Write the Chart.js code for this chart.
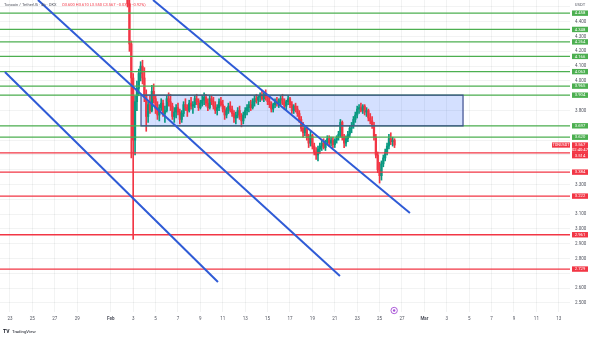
<!DOCTYPE html>
<html>
<head>
<meta charset="utf-8">
<script src="https://cdn.jsdelivr.net/npm/chart.js@4.4.1/dist/chart.umd.min.js"></script>
<style>
  html, body { margin: 0; padding: 0; background: #fff; }
</style>
</head>
<body>
<canvas id="myChart" width="600" height="338"></canvas>
<script>
// ---- values (TONUSDT, 4h candles) ----
// x axis is "days since Feb 1"
const dayTicks = [-9, -7, -5, -3, 0, 2, 4, 6, 8, 10, 12, 14, 16, 18, 20, 22, 24, 26, 28, 30, 32, 34, 36, 38, 40];
const dayTickLabels = ["23", "25", "27", "29", "Feb", "3", "5", "7", "9", "11", "13", "15", "17", "19", "21", "23", "25", "27", "Mar", "3", "5", "7", "9", "11", "13"];
const priceTicks = [2.5, 2.6, 2.7, 2.8, 2.9, 3.0, 3.1, 3.2, 3.3, 3.4, 3.5, 3.6, 3.7, 3.8, 3.9, 4.0, 4.1, 4.2, 4.3, 4.4, 4.5];

const greenLevels = [4.458, 4.348, 4.264, 4.166, 4.063, 3.965, 3.904, 3.697, 3.62];
const redLevels = [3.514, 3.384, 3.222, 2.961, 2.729];
const lastPrice = 3.567;

const firstCandleDay = 1.5; // Feb 2, 12:00
const candleStep = 4 / 24;
const candleOpen = [
  4.70, 4.52, 4.25, 4.02, 3.60, 3.86, 3.95, 4.05, 4.10, 4.02, 3.90, 3.76,
  3.84, 3.80, 3.93, 3.88, 3.81, 3.77, 3.82, 3.85, 3.78, 3.80, 3.88, 3.86,
  3.83, 3.76, 3.79, 3.82, 3.79, 3.74, 3.78, 3.84, 3.82, 3.80, 3.85, 3.83,
  3.84, 3.88, 3.86, 3.82, 3.85, 3.87, 3.89, 3.85, 3.82, 3.88, 3.86, 3.83,
  3.80, 3.82, 3.86, 3.84, 3.81, 3.77, 3.80, 3.83, 3.81, 3.78, 3.75, 3.77,
  3.80, 3.76, 3.73, 3.77, 3.80, 3.82, 3.84, 3.82, 3.86, 3.88, 3.87, 3.89,
  3.90, 3.88, 3.91, 3.89, 3.86, 3.84, 3.81, 3.84, 3.86, 3.85, 3.87, 3.88,
  3.85, 3.83, 3.86, 3.88, 3.84, 3.80, 3.83, 3.81, 3.78, 3.74, 3.68, 3.65,
  3.68, 3.62, 3.58, 3.63, 3.56, 3.52, 3.50, 3.54, 3.56, 3.58, 3.55, 3.59,
  3.61, 3.58, 3.60, 3.57, 3.60, 3.62, 3.64, 3.72, 3.62, 3.58, 3.61, 3.64,
  3.68, 3.70, 3.74, 3.77, 3.81, 3.82, 3.80, 3.83, 3.79, 3.80, 3.75, 3.73,
  3.70, 3.62, 3.50, 3.40, 3.36, 3.44, 3.48, 3.52, 3.56, 3.61, 3.59, 3.60
];
const candleHigh = [
  4.74, 4.55, 4.27, 4.05, 3.90, 4.00, 4.08, 4.13, 4.14, 4.09, 3.94, 3.86,
  3.90, 3.97, 3.98, 3.90, 3.86, 3.84, 3.88, 3.87, 3.83, 3.90, 3.92, 3.91,
  3.85, 3.82, 3.84, 3.85, 3.81, 3.80, 3.86, 3.88, 3.84, 3.87, 3.89, 3.86,
  3.90, 3.91, 3.88, 3.87, 3.90, 3.92, 3.91, 3.88, 3.90, 3.90, 3.89, 3.86,
  3.84, 3.88, 3.89, 3.87, 3.83, 3.82, 3.85, 3.86, 3.83, 3.80, 3.79, 3.82,
  3.83, 3.78, 3.79, 3.82, 3.84, 3.86, 3.87, 3.88, 3.90, 3.91, 3.90, 3.92,
  3.93, 3.92, 3.94, 3.91, 3.89, 3.86, 3.85, 3.88, 3.89, 3.88, 3.90, 3.91,
  3.88, 3.87, 3.90, 3.89, 3.86, 3.84, 3.85, 3.83, 3.80, 3.76, 3.72, 3.70,
  3.69, 3.64, 3.66, 3.64, 3.58, 3.55, 3.56, 3.58, 3.60, 3.61, 3.60, 3.63,
  3.63, 3.62, 3.62, 3.61, 3.63, 3.66, 3.74, 3.73, 3.64, 3.63, 3.66, 3.70,
  3.72, 3.76, 3.79, 3.83, 3.84, 3.85, 3.84, 3.84, 3.82, 3.81, 3.78, 3.76,
  3.72, 3.64, 3.52, 3.45, 3.46, 3.50, 3.54, 3.58, 3.64, 3.65, 3.62, 3.61
];
const candleLow = [
  4.50, 4.20, 3.48, 2.93, 3.50, 3.80, 3.90, 4.00, 3.98, 3.86, 3.66, 3.72,
  3.78, 3.79, 3.85, 3.78, 3.74, 3.73, 3.80, 3.76, 3.72, 3.79, 3.83, 3.80,
  3.74, 3.72, 3.75, 3.77, 3.71, 3.72, 3.76, 3.80, 3.76, 3.79, 3.81, 3.78,
  3.82, 3.84, 3.80, 3.81, 3.83, 3.84, 3.83, 3.80, 3.81, 3.84, 3.81, 3.78,
  3.77, 3.80, 3.83, 3.79, 3.74, 3.75, 3.78, 3.79, 3.76, 3.72, 3.71, 3.75,
  3.74, 3.69, 3.71, 3.75, 3.77, 3.79, 3.80, 3.81, 3.83, 3.85, 3.84, 3.86,
  3.87, 3.86, 3.87, 3.84, 3.82, 3.79, 3.79, 3.82, 3.83, 3.82, 3.84, 3.84,
  3.81, 3.80, 3.84, 3.82, 3.78, 3.78, 3.79, 3.76, 3.72, 3.66, 3.62, 3.63,
  3.60, 3.55, 3.56, 3.54, 3.50, 3.47, 3.46, 3.51, 3.53, 3.54, 3.53, 3.57,
  3.56, 3.56, 3.55, 3.55, 3.58, 3.60, 3.62, 3.60, 3.55, 3.56, 3.59, 3.62,
  3.65, 3.68, 3.72, 3.75, 3.78, 3.79, 3.78, 3.77, 3.76, 3.73, 3.71, 3.68,
  3.60, 3.48, 3.38, 3.31, 3.33, 3.42, 3.46, 3.50, 3.54, 3.57, 3.56, 3.55
];
const candleClose = [
  4.52, 4.25, 4.02, 3.60, 3.86, 3.95, 4.05, 4.10, 4.02, 3.90, 3.76, 3.84,
  3.80, 3.93, 3.88, 3.81, 3.77, 3.82, 3.85, 3.78, 3.80, 3.88, 3.86, 3.83,
  3.76, 3.79, 3.82, 3.79, 3.74, 3.78, 3.84, 3.82, 3.80, 3.85, 3.83, 3.84,
  3.88, 3.86, 3.82, 3.85, 3.87, 3.89, 3.85, 3.82, 3.88, 3.86, 3.83, 3.80,
  3.82, 3.86, 3.84, 3.81, 3.77, 3.80, 3.83, 3.81, 3.78, 3.75, 3.77, 3.80,
  3.76, 3.73, 3.77, 3.80, 3.82, 3.84, 3.82, 3.86, 3.88, 3.87, 3.89, 3.90,
  3.88, 3.91, 3.89, 3.86, 3.84, 3.81, 3.84, 3.86, 3.85, 3.87, 3.88, 3.85,
  3.83, 3.86, 3.88, 3.84, 3.80, 3.83, 3.81, 3.78, 3.74, 3.68, 3.65, 3.68,
  3.62, 3.58, 3.63, 3.56, 3.52, 3.50, 3.54, 3.56, 3.58, 3.55, 3.59, 3.61,
  3.58, 3.60, 3.57, 3.60, 3.62, 3.64, 3.72, 3.62, 3.58, 3.61, 3.64, 3.68,
  3.70, 3.74, 3.77, 3.81, 3.82, 3.80, 3.83, 3.79, 3.80, 3.75, 3.73, 3.70,
  3.62, 3.50, 3.40, 3.36, 3.44, 3.48, 3.52, 3.56, 3.61, 3.59, 3.60, 3.567
];

// drawings: trend lines as [startDay, startPrice, endDay, endPrice]
const channelLines = [
  [-9.45, 4.061, 9.57, 2.642],
  [-6.5, 4.547, 20.46, 2.682],
  [3.77, 4.547, 26.71, 3.108]
];
const boxDays = [2.7, 31.45];
const boxPrices = [3.904, 3.697];
const eventDay = 25.3;

// ---- build datasets ----
const upColor = "#089981";
const downColor = "#f23645";
const greenLine = "#4caf50";
const redLine = "#f23645";
const xMin = -9.89;
const xMax = 41.0;

const candleDays = candleOpen.map((o, i) => firstCandleDay + i * candleStep);
const candleColors = candleClose.map((c, i) => (c >= candleOpen[i] ? upColor : downColor));

const levelSet = (v, color) => ({
  type: "line",
  data: [{ x: xMin, y: v }, { x: xMax, y: v }],
  borderColor: color,
  borderWidth: 1.3,
  pointRadius: 0,
  order: 3,
});

const datasets = [
  // box fill (top line filled down to the next dataset)
  {
    type: "line",
    data: [{ x: boxDays[0], y: boxPrices[0] }, { x: boxDays[1], y: boxPrices[0] }],
    borderWidth: 0,
    pointRadius: 0,
    backgroundColor: "rgba(41,98,255,0.2)",
    fill: "+1",
    order: 6,
  },
  {
    type: "line",
    data: [{ x: boxDays[0], y: boxPrices[1] }, { x: boxDays[1], y: boxPrices[1] }],
    borderWidth: 0,
    pointRadius: 0,
    fill: false,
    order: 6,
  },
  // wicks
  {
    type: "bar",
    data: candleDays.map((d, i) => ({ x: d, y: [candleLow[i], candleHigh[i]] })),
    backgroundColor: candleColors,
    barThickness: 1,
    grouped: false,
    order: 5,
  },
  // bodies
  {
    type: "bar",
    data: candleDays.map((d, i) => ({ x: d, y: [candleOpen[i], candleClose[i]] })),
    backgroundColor: candleColors,
    barThickness: 1.6,
    minBarLength: 1,
    grouped: false,
    order: 4,
  },
  ...greenLevels.map((v) => levelSet(v, greenLine)),
  ...redLevels.map((v) => levelSet(v, redLine)),
  // box outline
  {
    type: "line",
    data: [
      { x: boxDays[0], y: boxPrices[0] },
      { x: boxDays[1], y: boxPrices[0] },
      { x: boxDays[1], y: boxPrices[1] },
      { x: boxDays[0], y: boxPrices[1] },
      { x: boxDays[0], y: boxPrices[0] },
    ],
    borderColor: "#3d4d8e",
    borderWidth: 1.2,
    pointRadius: 0,
    order: 2,
  },
  ...channelLines.map((l) => ({
    type: "line",
    data: [{ x: l[0], y: l[1] }, { x: l[2], y: l[3] }],
    borderColor: "#2f5bd6",
    borderWidth: 2,
    pointRadius: 0,
    order: 1,
  })),
];

// hide axis numbers that sit under a level tag (TradingView does this)
const allLevels = greenLevels.concat(redLevels);
const tickHidden = (v) => v >= 4.5 || allLevels.some((l) => Math.abs(l - v) < 0.03);

// extra bits: axis tags, header, logo, event marker
const tvOverlay = {
  id: "tvOverlay",
  afterDraw(chart) {
    const ctx = chart.ctx;
    const yScale = chart.scales.y;
    const xScale = chart.scales.x;
    const area = chart.chartArea;
    const tagX = area.right + 2;
    ctx.save();
    ctx.textAlign = "center";
    ctx.textBaseline = "middle";

    const tag = (y, bg, text) => {
      ctx.fillStyle = bg;
      ctx.fillRect(tagX, y - 2.7, 16, 5.4);
      ctx.fillStyle = "#fff";
      ctx.font = "4.2px Roboto";
      ctx.fillText(text, tagX + 8, y + 0.2);
    };

    greenLevels.forEach((v) => tag(yScale.getPixelForValue(v), greenLine, v.toFixed(3)));

    // last price + countdown + symbol
    const py = yScale.getPixelForValue(lastPrice);
    ctx.fillStyle = downColor;
    ctx.fillRect(tagX, py - 2.7, 16, 10.6);
    ctx.fillRect(area.right - 18, py - 2.6, 18, 5.2);
    ctx.fillStyle = "#fff";
    ctx.font = "4.2px Roboto";
    ctx.fillText(lastPrice.toFixed(3), tagX + 8, py + 0.2);
    ctx.fillText("02:40:47", tagX + 8, py + 5.3);
    ctx.font = "3.8px Roboto";
    ctx.fillText("TONUSDT", area.right - 9, py + 0.2);

    redLevels.forEach((v) => {
      let y = yScale.getPixelForValue(v);
      if (y < py + 10.6) y = py + 10.6;
      tag(y, redLine, v.toFixed(3));
    });

    // currency on top of the price axis
    ctx.fillStyle = "#50535e";
    ctx.font = "4.2px Roboto";
    ctx.fillText("USDT", tagX + 8, 5);

    // header line
    ctx.textAlign = "left";
    ctx.fillStyle = "#50535e";
    ctx.font = "4px Roboto";
    ctx.fillText("Toncoin / TetherUS · 4h · OKX", 4, 5);
    ctx.fillStyle = "#f23645";
    ctx.fillText("O3.600 H3.610 L3.550 C3.567 −0.033 (−0.92%)", 62, 5);

    // TradingView logo
    ctx.fillStyle = "#131722";
    ctx.font = "bold 5px Roboto";
    ctx.fillText("TV", 3, 332);
    ctx.font = "4.3px Roboto";
    ctx.fillText("TradingView", 12, 332);

    // event marker
    const ex = xScale.getPixelForValue(eventDay);
    ctx.beginPath();
    ctx.arc(ex, 310.5, 3.2, 0, Math.PI * 2);
    ctx.fillStyle = "#fff";
    ctx.fill();
    ctx.strokeStyle = "#a64fd6";
    ctx.lineWidth = 0.9;
    ctx.stroke();
    ctx.beginPath();
    ctx.arc(ex, 310.5, 1.2, 0, Math.PI * 2);
    ctx.fillStyle = "#a64fd6";
    ctx.fill();
    ctx.restore();
  },
};

Chart.defaults.font.family = "Roboto, 'Noto Sans', sans-serif";
const gridColor = "rgba(42,46,57,0.06)";

let ctx = document.getElementById("myChart").getContext("2d");
let myChart = new Chart(ctx, {
  type: "line",
  data: { datasets: datasets },
  options: {
    responsive: false,
    animation: false,
    devicePixelRatio: 1,
    layout: { padding: { left: 0, right: 0, top: 0, bottom: 12 } },
    plugins: { legend: { display: false }, tooltip: { enabled: false } },
    scales: {
      x: {
        type: "linear",
        min: xMin,
        max: xMax,
        offset: false,
        grid: { color: gridColor, drawTicks: false, offset: false },
        border: { display: false },
        afterBuildTicks: (scale) => {
          scale.ticks = dayTicks.map((v) => ({ value: v }));
        },
        afterFit: (scale) => {
          scale.height = 14;
          scale.paddingLeft = 0;
          scale.paddingRight = 0;
        },
        ticks: {
          autoSkip: false,
          maxRotation: 0,
          padding: 4,
          color: "#50535e",
          font: (c) => ({ size: 4.5, weight: c.tick && (c.tick.value === 0 || c.tick.value === 28) ? "bold" : "normal" }),
          callback: (value) => {
            const k = dayTicks.indexOf(value);
            return k >= 0 ? dayTickLabels[k] : "";
          },
        },
      },
      y: {
        type: "linear",
        position: "right",
        min: 2.439,
        max: 4.547,
        beginAtZero: false,
        grid: { color: gridColor, drawTicks: false },
        border: { display: false },
        afterBuildTicks: (scale) => {
          scale.ticks = priceTicks.map((v) => ({ value: v }));
        },
        afterFit: (scale) => {
          scale.width = 30;
          scale.paddingTop = 0;
          scale.paddingBottom = 0;
        },
        ticks: {
          padding: 5,
          color: "#50535e",
          font: { size: 4.5 },
          callback: (value) => (tickHidden(value) ? "" : value.toFixed(3)),
        },
      },
    },
  },
  plugins: [tvOverlay],
});
</script>
</body>
</html>
